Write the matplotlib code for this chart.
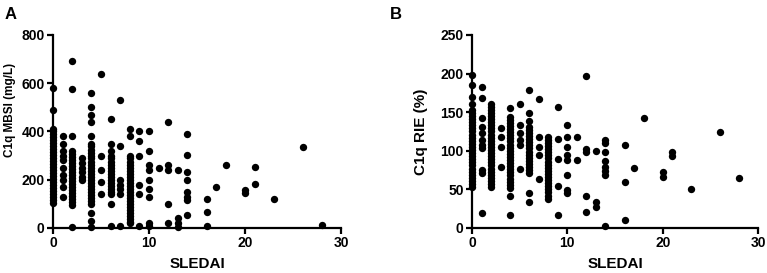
import matplotlib.pyplot as plt

plt.rcParams['font.family'] = ['Liberation Sans', 'DejaVu Sans']
plt.rcParams['font.weight'] = 'bold'

mbsi = {
    0: [580, 490, 410, 400, 390, 378, 365, 352, 340, 328, 315, 302, 290, 278, 265, 252, 240,
        228, 215, 202, 190, 178, 165, 152, 140, 128, 115, 102],
    1: [380, 350, 320, 300, 280, 250, 220, 200, 170, 130],
    2: [690, 575, 380, 320, 308, 295, 282, 270, 258, 245, 232, 220, 208, 195, 182, 170, 158,
        145, 132, 120, 108, 95, 5],
    3: [290, 270, 250, 230, 210, 200],
    4: [560, 500, 470, 440, 380, 350, 338, 325, 312, 300, 288, 275, 262, 250, 238, 225, 212,
        200, 188, 175, 162, 150, 138, 125, 112, 100, 60, 30, 5],
    5: [640, 300, 240, 190, 140],
    6: [450, 350, 320, 300, 288, 275, 262, 250, 238, 225, 212, 200, 188, 175, 162, 150, 140,
        100, 10],
    7: [530, 340, 200, 180, 160, 140, 10],
    8: [410, 380, 300, 288, 275, 262, 250, 238, 225, 212, 200, 188, 175, 162, 150, 138, 125,
        112, 100, 88, 75, 62, 50, 38, 25, 20],
    9: [400, 360, 300, 180, 140, 10],
    10: [400, 320, 260, 240, 200, 160, 130, 20, 10],
    11: [250],
    12: [440, 260, 240, 100, 20],
    13: [240, 40, 20, 5],
    14: [390, 303, 233, 199, 148, 130, 116, 54],
    16: [120, 65, 8],
    17: [171],
    18: [261],
    20: [157, 144],
    21: [251, 181],
    23: [120],
    26: [337],
    28: [11],
}

rie = {
    0: [198, 185, 170, 161, 153, 149, 145, 141, 137, 133, 129, 125, 121, 117, 113, 109, 105,
        101, 97, 93, 89, 85, 81, 77, 73, 69, 65, 61, 57, 53],
    1: [183, 168, 142, 131, 123, 114, 108, 103, 75, 71, 20],
    2: [161, 157, 153, 149, 145, 141, 137, 133, 129, 125, 121, 117, 113, 109, 105, 101, 97,
        93, 89, 85, 81, 77, 73, 69, 65, 61, 57, 53],
    3: [129, 118, 105, 79],
    4: [155, 144, 140, 136, 132, 128, 124, 120, 116, 112, 108, 104, 100, 96, 92, 88, 84, 80,
        76, 72, 68, 64, 60, 56, 52, 41, 17],
    5: [161, 133, 123, 114, 108, 77],
    6: [179, 149, 138, 131, 127, 123, 119, 115, 111, 107, 103, 99, 95, 91, 87, 83, 79, 75,
        71, 45, 33],
    7: [167, 118, 105, 95, 63],
    8: [118, 114, 110, 106, 102, 98, 94, 90, 86, 82, 78, 74, 70, 66, 62, 58, 54, 50, 46, 42,
        38],
    9: [157, 115, 89, 54, 17],
    10: [133, 118, 105, 95, 88, 69, 49, 45],
    11: [118, 88],
    12: [197, 102, 99, 41, 21],
    13: [100, 34, 27],
    14: [114, 110, 99, 87, 79, 74, 69, 3],
    16: [108, 59, 10],
    17: [78],
    18: [142],
    20: [73, 66],
    21: [99, 93],
    23: [51],
    26: [124],
    28: [65],
}

fig = plt.figure(figsize=(7.67, 2.73), dpi=100)
axA = fig.add_axes([0.0691, 0.165, 0.3755, 0.707])
axB = fig.add_axes([0.6154, 0.165, 0.3729, 0.707])


def draw(ax, data, ymax, yticks, ylabel, ylabel_size, ylabel_pos):
    for sledai, vals in data.items():
        ax.scatter([sledai] * len(vals), vals, s=28, color='black', zorder=3, clip_on=False,
                   linewidths=0)
    ax.set_xlim(0, 30)
    ax.set_ylim(0, ymax)
    ax.set_xticks([0, 10, 20, 30])
    ax.set_yticks(yticks)
    for s in ['top', 'right']:
        ax.spines[s].set_visible(False)
    for s in ['left', 'bottom']:
        ax.spines[s].set_linewidth(1.6)
    ax.tick_params(width=1.6, length=4, labelsize=10, pad=2)
    ax.set_xlabel('SLEDAI', fontsize=11, fontweight='bold', labelpad=5)
    ax.set_ylabel(ylabel, fontsize=ylabel_size, fontweight='bold')
    ax.yaxis.set_label_coords(ylabel_pos[0], ylabel_pos[1])


draw(axA, mbsi, 800, [0, 200, 400, 600, 800], 'C1q MBSI (mg/L)', 8.5, (-0.13, 0.61))
draw(axB, rie, 250, [0, 50, 100, 150, 200, 250], 'C1q RIE (%)', 11, (-0.155, 0.5))

fig.text(0.006, 0.93, 'A', fontsize=12, fontweight='bold')
fig.text(0.508, 0.93, 'B', fontsize=12, fontweight='bold')

fig.savefig('out.png', dpi=100)
